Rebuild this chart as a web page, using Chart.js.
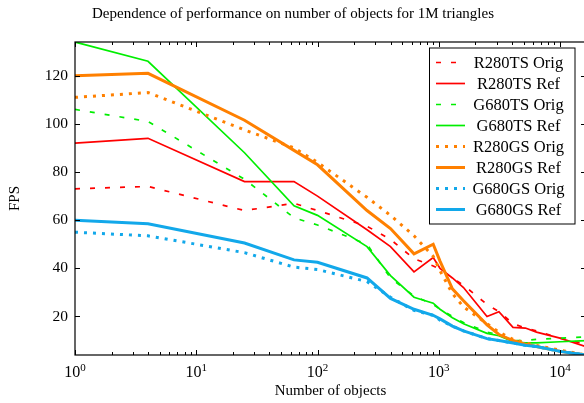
<!DOCTYPE html>
<html lang="en">
<head>
<meta charset="UTF-8">
<title>FPS vs number of objects</title>
<script src="https://cdn.jsdelivr.net/npm/chart.js"></script>
<style>
    body {
        margin: 0;
        padding: 0;
        overflow: hidden;
        background: #fff;
    }
    .wrap {
        width: 586px;
        height: 403px;
    }
</style>
</head>
<body>
<div class="wrap"><canvas id="fpsChart"></canvas></div>
<script>
// number of objects (x axis, log scale)
var objects = [1, 4, 25, 64, 100, 256, 400, 625, 900, 1024, 1296, 1600, 2500, 3136, 4096, 5184, 6400, 10000, 16384];

// FPS per configuration
var r280tsOrig = [73, 74, 64, 67, 64, 57.5, 52, 44, 41, 39.5, 36, 33, 25, 22, 17, 15.2, 14, 11, 8.5];
var r280tsRef  = [92, 94, 76, 76, 70, 56, 49, 38.5, 44.5, 40, 36, 32, 20, 22, 15.5, 15.2, 13.5, 11, 7.5];
var g680tsOrig = [106, 101, 77, 61, 58, 50, 36, 28.5, 25, 23, 20, 17.5, 13.5, 12.5, 10, 10, 10.5, 11, 11.5];
var g680tsRef  = [134, 126, 88, 66, 62, 49, 37, 28, 25.5, 23, 19.5, 17, 13, 12, 9.5, 9, 9, 9.5, 10];
var r280gsOrig = [111, 113, 97.5, 90, 84, 69.5, 62, 53.5, 45, 39, 29.5, 24, 17, 13.5, 10.5, 9, 8, 6, 4];
var r280gsRef  = [120, 121, 101.5, 89, 83, 64, 56.5, 46, 50, 43, 31.5, 26.5, 16.5, 12.5, 10, 8.5, 7.5, 5.5, 4];
var g680gsOrig = [55, 53.5, 46.5, 40.5, 39.5, 34.5, 28, 22.5, 20.5, 18.5, 16, 14, 10.8, 10, 9, 8, 7.5, 5.5, 4];
var g680gsRef  = [60, 58.5, 50.5, 43.5, 42.5, 36, 27.5, 23, 20.5, 19, 16, 14, 10.8, 10, 9, 8, 7.5, 5.5, 4];

var seriesLabels = ['R280TS Orig', 'R280TS Ref', 'G680TS Orig', 'G680TS Ref',
                    'R280GS Orig', 'R280GS Ref', 'G680GS Orig', 'G680GS Ref'];

// tick labels: x labels are 10 with a raised exponent
var xTickValues = [1, 10, 100, 1000, 10000];
var xTickExponents = ['0', '1', '2', '3', '4'];
var yTickValues = [20, 40, 60, 80, 100, 120];

var serif = "'Liberation Serif', 'Times New Roman', serif";

var RED = '#ff0000';
var GREEN = '#00ee00';
var ORANGE = '#ff8000';
var BLUE = '#12a8ea';

var DASHED = [5, 10];
var DOTTED = [3, 6];

function makeSet(label, values, color, width, dash) {
    return {
        label: label,
        data: objects.map(function (x, i) { return { x: x, y: values[i] }; }),
        borderColor: color,
        backgroundColor: color,
        borderWidth: width,
        borderDash: dash,
        borderCapStyle: 'butt',
        borderJoinStyle: 'miter',
        pointRadius: 0,
        tension: 0,
        fill: false
    };
}

var datasets = [
    makeSet(seriesLabels[0], r280tsOrig, RED, 1.7, DASHED),
    makeSet(seriesLabels[1], r280tsRef, RED, 1.7, []),
    makeSet(seriesLabels[2], g680tsOrig, GREEN, 1.7, DASHED),
    makeSet(seriesLabels[3], g680tsRef, GREEN, 1.7, []),
    makeSet(seriesLabels[4], r280gsOrig, ORANGE, 3, DOTTED),
    makeSet(seriesLabels[5], r280gsRef, ORANGE, 3, []),
    makeSet(seriesLabels[6], g680gsOrig, BLUE, 3, DOTTED),
    makeSet(seriesLabels[7], g680gsRef, BLUE, 3, [])
];
// later series on top, like the original plot
datasets.forEach(function (ds, i) { ds.order = -i; });

// frame, inward ticks, x tick labels and the boxed legend
var axisDecor = {
    id: 'axisDecor',
    afterDraw: function (chart) {
        var ctx = chart.ctx;
        var ca = chart.chartArea;
        var xs = chart.scales.x;
        var ys = chart.scales.y;
        ctx.save();

        ctx.strokeStyle = '#000';
        ctx.lineWidth = 1;
        ctx.beginPath();
        for (var k = 0; k <= 4; k++) {
            for (var m = 1; m <= 9; m++) {
                var v = m * Math.pow(10, k);
                if (v > xs.max) break;
                var px = Math.round(xs.getPixelForValue(v)) + 0.5;
                var len = m === 1 ? 5 : 3;
                ctx.moveTo(px, ca.bottom);
                ctx.lineTo(px, ca.bottom - len);
                ctx.moveTo(px, ca.top);
                ctx.lineTo(px, ca.top + len);
            }
        }
        yTickValues.forEach(function (v) {
            var py = Math.round(ys.getPixelForValue(v)) + 0.5;
            ctx.moveTo(ca.left, py);
            ctx.lineTo(ca.left + 5, py);
            ctx.moveTo(ca.right, py);
            ctx.lineTo(ca.right - 5, py);
        });
        ctx.stroke();

        ctx.lineWidth = 1.2;
        ctx.strokeRect(ca.left, ca.top, ca.right - ca.left, ca.bottom - ca.top);

        // x tick labels: "10" plus superscript exponent
        ctx.fillStyle = '#000';
        ctx.textAlign = 'left';
        ctx.textBaseline = 'alphabetic';
        xTickValues.forEach(function (v, i) {
            var px = xs.getPixelForValue(v);
            ctx.font = '16px ' + serif;
            var wBase = ctx.measureText('10').width;
            ctx.font = '11px ' + serif;
            var wExp = ctx.measureText(xTickExponents[i]).width;
            var x0 = px - (wBase + wExp) / 2;
            ctx.font = '16px ' + serif;
            ctx.fillText('10', x0, ca.bottom + 22);
            ctx.font = '11px ' + serif;
            ctx.fillText(xTickExponents[i], x0 + wBase, ca.bottom + 16.3);
        });

        // legend
        var bx = ca.right - 156.5;
        var by = ca.top + 6;
        var bw = 145.5;
        var bh = 176;
        ctx.fillStyle = '#fff';
        ctx.fillRect(bx, by, bw, bh);
        ctx.lineWidth = 1;
        ctx.strokeStyle = '#000';
        ctx.strokeRect(bx, by, bw, bh);
        ctx.font = '16.5px ' + serif;
        ctx.textAlign = 'center';
        ctx.textBaseline = 'middle';
        chart.data.datasets.forEach(function (ds, i) {
            var cy = by + 14.5 + i * 21;
            ctx.beginPath();
            ctx.strokeStyle = ds.borderColor;
            ctx.lineWidth = ds.borderWidth;
            ctx.lineCap = 'butt';
            ctx.setLineDash(ds.borderDash);
            ctx.moveTo(bx + 6.5, cy);
            ctx.lineTo(bx + 35.5, cy);
            ctx.stroke();
            ctx.setLineDash([]);
            ctx.fillStyle = '#000';
            ctx.fillText(ds.label, bx + 89, cy + 1);
        });
        ctx.restore();
    }
};

var ctx = document.getElementById('fpsChart').getContext('2d');
var fpsChart = new Chart(ctx, {
    type: 'line',
    data: { datasets: datasets },
    options: {
        responsive: true,
        maintainAspectRatio: false,
        animation: false,
        layout: { padding: 0 },
        plugins: {
            legend: { display: false },
            tooltip: { enabled: false },
            title: {
                display: true,
                text: 'Dependence of performance on number of objects for 1M triangles',
                color: '#000',
                font: { family: serif, size: 15, weight: 'normal' },
                padding: { top: 5, bottom: 19 }
            }
        },
        scales: {
            x: {
                type: 'logarithmic',
                position: 'bottom',
                min: 1,
                max: 16384,
                grid: { display: false, drawTicks: false },
                border: { display: false },
                afterBuildTicks: function (scale) {
                    scale.ticks = xTickValues.map(function (v) { return { value: v }; });
                },
                afterFit: function (scale) { scale.height = 48; },
                ticks: { display: false },
                title: {
                    display: true,
                    text: 'Number of objects',
                    color: '#000',
                    font: { family: serif, size: 15 },
                    padding: { top: 2, bottom: 3 }
                }
            },
            y: {
                type: 'linear',
                min: 4,
                max: 134,
                grid: { display: false, drawTicks: false },
                border: { display: false },
                afterBuildTicks: function (scale) {
                    scale.ticks = yTickValues.map(function (v) { return { value: v }; });
                },
                afterFit: function (scale) { scale.width = 75; },
                ticks: {
                    color: '#000',
                    font: { family: serif, size: 15.5 },
                    padding: 7
                },
                title: {
                    display: true,
                    text: 'FPS',
                    color: '#000',
                    font: { family: serif, size: 15 },
                    padding: { top: 6, bottom: 4 }
                }
            }
        }
    },
    plugins: [axisDecor]
});
</script>
</body>
</html>
